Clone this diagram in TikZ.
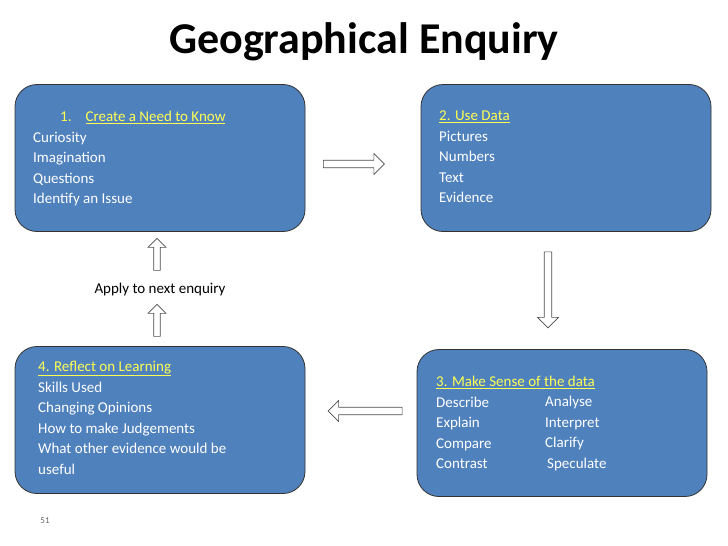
\documentclass[tikz,border=0pt]{standalone}
\usepackage{fontspec}
\setmainfont{Carlito}
\usetikzlibrary{shapes.arrows}
\definecolor{boxblue}{HTML}{4F81BD}
\definecolor{hdr}{HTML}{FFFF55}
\tikzset{
 stage/.style={draw=black!80, line width=0.8pt, fill=boxblue, rounded corners=22pt, minimum width=290pt, minimum height=147pt, inner sep=0pt},
 txt/.style={text=white, font=\fontsize{15}{20.5}\selectfont, align=left, anchor=north west, inner sep=0pt},
 blk/.style={single arrow, draw=black!70, fill=white, line width=0.6pt, single arrow head extend=5pt, inner sep=2.5pt}
}
\begin{document}
\begin{tikzpicture}[x=1pt,y=-1pt]
\useasboundingbox (0,0) rectangle (728,546);
\node[font=\bfseries\fontsize{44}{44}\selectfont] (title) at (364,42) {Geographical Enquiry};
\node[stage] (b1) at (160,158) {};
\node[stage] (b2) at (566,158) {};
\node[stage] (b3) at (562,423) {};
\node[stage] (b4) at (160,420) {};
\node[txt] (t1) at (33,111) {\hspace*{27pt}\textcolor{hdr}{1.\hspace{14pt}\underline{Create a Need to Know}}\\Curiosity\\Imagination\\Questions\\Identify an Issue};
\node[txt] (t2) at (439,111) {\textcolor{hdr}{\underline{2. Use Data}}\\Pictures\\Numbers\\Text\\Evidence};
\node[txt] (t3) at (436,376) {\textcolor{hdr}{\underline{3. Make Sense of the data}}\\Describe\\Explain\\Compare\\Contrast};
\node[txt] (t3b) at (545,396) {Analyse\\Interpret\\Clarify\\\hspace*{2pt}Speculate};
\node[txt] (t4) at (38,361) {\textcolor{hdr}{\underline{4. Reflect on Learning}}\\Skills Used\\Changing Opinions\\How to make Judgements\\What other evidence would be\\useful};
\node[blk, minimum height=61pt, minimum width=21pt] (a12) at (352,164) {};
\node[blk, minimum height=76pt, minimum width=21pt, shape border rotate=270] (a23) at (548,288) {};
\node[blk, minimum height=74pt, minimum width=21pt, shape border rotate=180] (a34) at (367,411) {};
\node[blk, minimum height=32pt, minimum width=18pt, shape border rotate=90] (a41) at (157,322) {};
\node[blk, minimum height=32pt, minimum width=18pt, shape border rotate=90] (a41b) at (157,256) {};
\node[font=\fontsize{15}{18}\selectfont] (lab) at (160,289) {Apply to next enquiry};
\node[font=\fontsize{9}{10}\selectfont, text=black!60] (pg) at (45,521) {51};
\end{tikzpicture}
\end{document}
